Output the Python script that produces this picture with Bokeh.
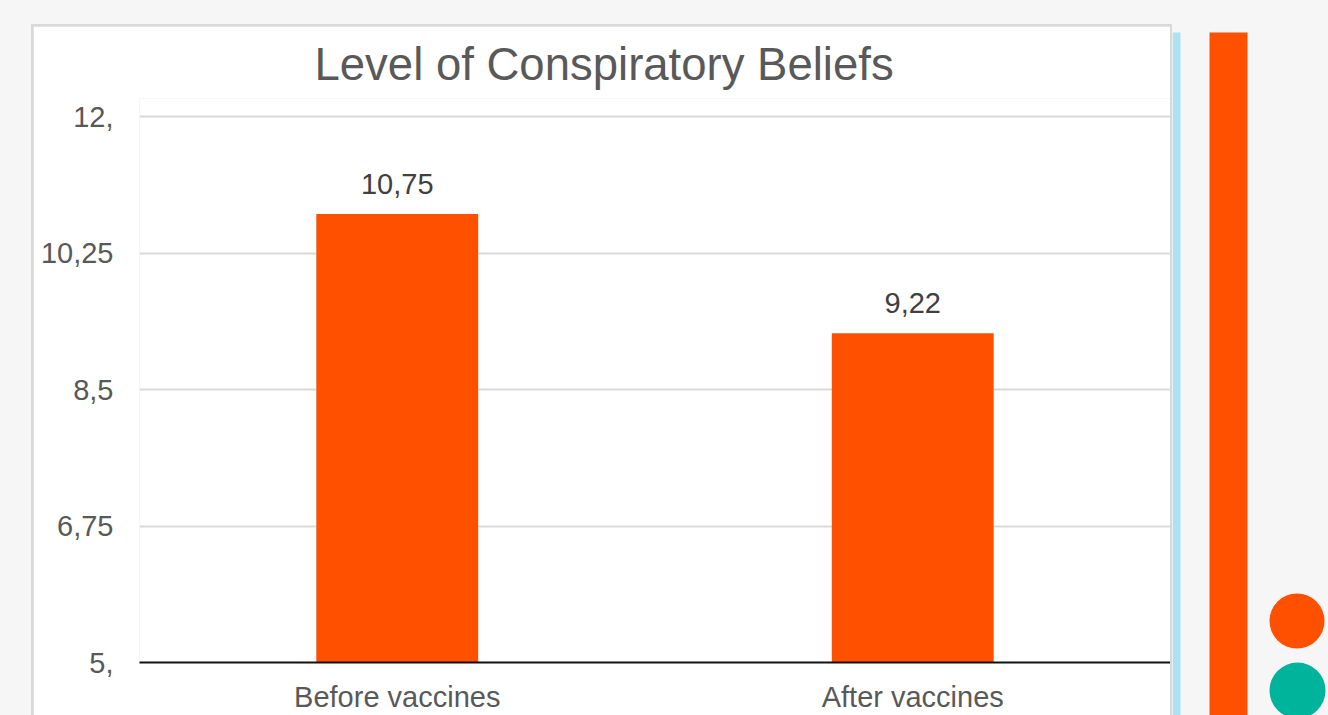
from bokeh.plotting import figure
from bokeh.layouts import row, column
from bokeh.models import (FactorRange, Range1d, FixedTicker, LabelSet,
                          ColumnDataSource)
from bokeh.core.properties import value
from bokeh.embed import file_html
from bokeh.resources import INLINE

# ---- data ----
categories = ["Before vaccines", "After vaccines"]
values = [10.75, 9.22]
value_labels = [f"{v:.2f}".replace(".", ",") for v in values]
y_ticks = [5.0, 6.75, 8.5, 10.25, 12.0]
y_tick_labels = ["5,", "6,75", "8,5", "10,25", "12,"]
title_text = "Level of Conspiratory Beliefs"

# ---- style ----
W, H = 1328, 715
FONT = "Liberation Sans"
ORANGE = "#ff5000"
TEAL = "#00b39b"
BLUE = "#aee2f0"
GREY_TXT = "#595959"
PAGE = "#f6f6f6"
BOX_BORDER = "#d9d9d9"

# main chart (inside the white box: x 33..1170, y 26..715)
p = figure(width=1137, height=689,
           x_range=FactorRange(factors=categories, range_padding=0),
           y_range=Range1d(5, 12.2308),
           output_backend="svg", toolbar_location=None,
           min_border_left=106, min_border_right=0,
           min_border_top=72, min_border_bottom=53,
           title=title_text, margin=(2, 2, 0, 2))

p.background_fill_color = "white"
p.border_fill_color = "white"
p.outline_line_color = None

p.title.align = "left"
p.title.offset = 175
p.title.standoff = 18
p.title.text_font = FONT
p.title.text_font_size = "45.5px"
p.title.text_font_style = "normal"
p.title.text_color = GREY_TXT

p.xgrid.grid_line_color = None
p.ygrid.grid_line_color = "#d9d9d9"
p.ygrid.grid_line_width = 2
p.yaxis.ticker = FixedTicker(ticks=y_ticks)
p.ygrid.ticker = FixedTicker(ticks=y_ticks)
p.yaxis.major_label_overrides = dict(zip(y_ticks, y_tick_labels))
p.yaxis.axis_line_color = None
p.yaxis.major_tick_line_color = None
p.yaxis.minor_tick_line_color = None
p.yaxis.major_label_standoff = 20
p.yaxis.major_label_text_font = FONT
p.yaxis.major_label_text_font_size = "29px"
p.yaxis.major_label_text_color = GREY_TXT

p.xaxis.axis_line_color = "#111111"
p.xaxis.axis_line_width = 2
p.xaxis.major_tick_line_color = None
p.xaxis.minor_tick_line_color = None
p.xaxis.major_label_standoff = 12
p.xaxis.major_label_text_font = FONT
p.xaxis.major_label_text_font_size = "29px"
p.xaxis.major_label_text_color = GREY_TXT

src = ColumnDataSource(dict(cat=categories, val=values, lab=value_labels))
p.vbar(x="cat", top="val", bottom=5, width=0.314, source=src,
       fill_color=ORANGE, line_color=None)

labels = LabelSet(x="cat", y="val", text="lab", source=src, y_offset=20,
                  text_align="center", text_baseline="alphabetic",
                  text_font=value(FONT), text_font_size="29px",
                  text_color="#404040")
p.add_layout(labels)

box = column(p, margin=(24, 0, 0, 31),
             styles={"background-color": BOX_BORDER})

# side decorations (pixel coordinates of the page, x 1172..1328)
s = figure(width=W - 1172, height=H,
           x_range=Range1d(1172, W), y_range=Range1d(H, 0),
           output_backend="svg", toolbar_location=None,
           x_axis_type=None, y_axis_type=None, min_border=0)
s.grid.visible = False
s.outline_line_color = None
s.background_fill_color = PAGE
s.border_fill_color = PAGE
s.quad(left=[1172, 1209], right=[1180, 1247], top=[32, 32], bottom=[H + 10, H + 10],
       fill_color=[BLUE, ORANGE], line_color=None)
s.circle(x=[1296.5, 1297], y=[620.5, 690], radius=[27.5, 28],
         fill_color=[ORANGE, TEAL], line_color=None)

page = row(box, s, styles={"background-color": PAGE})

open("out.html", "w").write(file_html(page, INLINE))
